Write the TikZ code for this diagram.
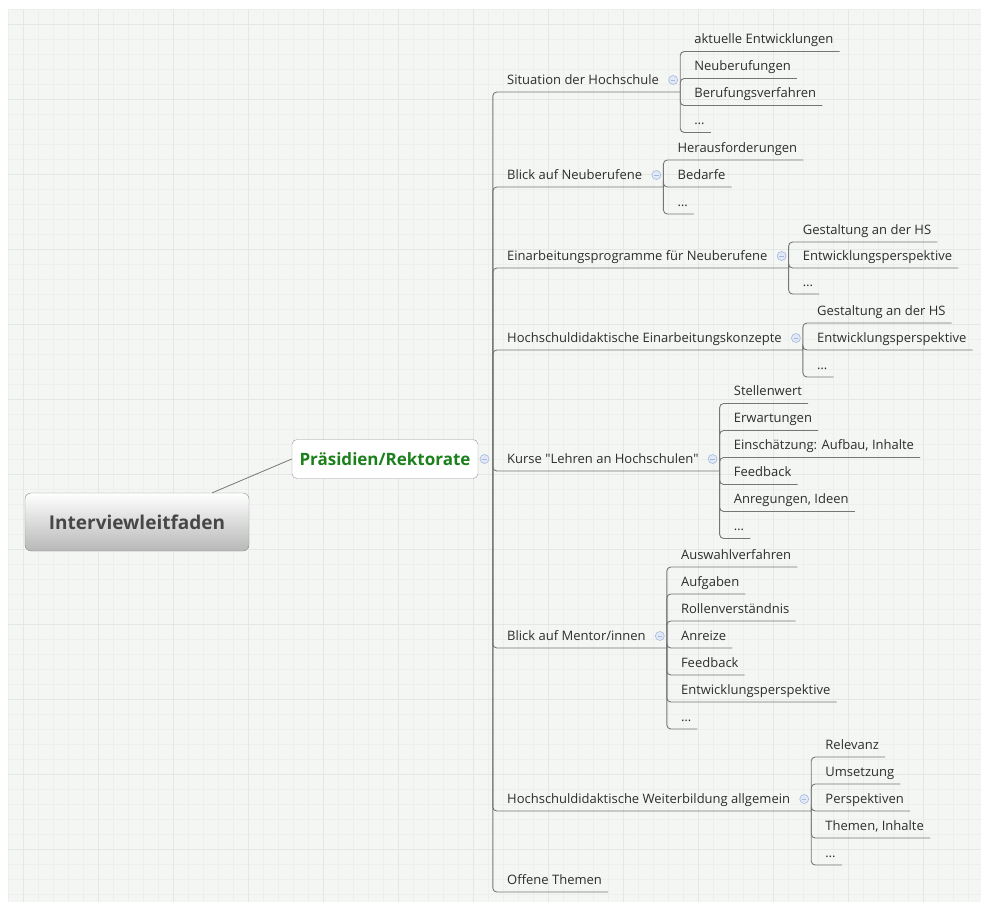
\documentclass[tikz,border=0pt]{standalone}
\usepackage{fontspec}
\setmainfont{Open Sans}[Ligatures=TeXOff]
\usetikzlibrary{positioning,calc}
\definecolor{mmline}{RGB}{118,118,118}
\definecolor{mmtext}{RGB}{45,45,45}
\definecolor{mmgreen}{RGB}{28,128,28}
\definecolor{mmbg}{RGB}{244,246,244}
\definecolor{mmgrid}{RGB}{236,239,236}
\definecolor{mmgridmajor}{RGB}{228,232,228}
\definecolor{mmicon}{RGB}{165,185,222}
\definecolor{mmiconfill}{RGB}{226,233,246}

\tikzset{
  leaf/.style={font=\fontsize{13}{15}\selectfont, text=mmtext, inner xsep=0pt, inner ysep=0pt,
    text height=10pt, text depth=7.5pt, anchor=south west},
  link/.style={draw=mmline, line width=0.9pt, rounded corners=4pt},
  fold/.style={circle, draw=mmicon, fill=mmiconfill, minimum size=9pt, inner sep=0pt, line width=0.6pt,
    path picture={\draw[mmicon, line width=0.8pt] ([xshift=-2.2pt]path picture bounding box.center)
      -- ([xshift=2.2pt]path picture bounding box.center);}},
  rootbox/.style={draw=black!45, rounded corners=6pt, top color=white, bottom color=black!28,
    minimum width=224pt, minimum height=58pt, font=\fontsize{19}{22}\selectfont\bfseries, text=black!72},
  presbox/.style={draw=black!40, rounded corners=5pt, fill=white, minimum width=186pt, minimum height=39pt,
    font=\fontsize{17}{20}\selectfont\bfseries, text=mmgreen},
}

\begin{document}
\begin{tikzpicture}[x=1pt, y=-1pt]
\useasboundingbox (0,0) rectangle (981,902);
% Background grid
\fill[mmbg] (8,9) rectangle (981,902);
\foreach \x in {8,23,...,981} \draw[mmgrid, line width=0.6pt] (\x,9) -- (\x,902);
\foreach \y in {9,24,...,902} \draw[mmgrid, line width=0.6pt] (8,\y) -- (981,\y);
\foreach \x in {23,98,...,981} \draw[mmgridmajor, line width=0.8pt] (\x,9) -- (\x,902);
\foreach \y in {24,99,...,902} \draw[mmgridmajor, line width=0.8pt] (8,\y) -- (981,\y);

% Central topic and main topic
\node[rootbox] (root) at (137,522) {Interviewleitfaden};
\node[presbox] (pres) at (385,459) {Präsidien/Rektorate};
\draw[mmline, line width=0.8pt] ([xshift=-37pt]root.north east) -- (pres.west);
\node[fold, right=1.5pt of pres] (pfold) {};
\coordinate[right=3.5pt of pfold] (hub);

% Main branches
\node[leaf] (b1) at (507,92) {Situation der Hochschule};
\node[leaf] (b2) at (507,187) {Blick auf Neuberufene};
\node[leaf] (b3) at (507,268) {Einarbeitungsprogramme für Neuberufene};
\node[leaf] (b4) at (507,350) {Hochschuldidaktische Einarbeitungskonzepte};
\node[leaf] (b5) at (507,471) {Kurse "Lehren an Hochschulen"};
\node[leaf] (b6) at (507,648) {Blick auf Mentor/innen};
\node[leaf] (b7) at (507,811) {Hochschuldidaktische Weiterbildung allgemein};
\node[leaf] (b8) at (507,892) {Offene Themen};
\foreach \i in {1,...,7} {
  \node[fold] (f\i) at ([xshift=14pt, yshift=12pt]b\i.south east) {};
  \coordinate (s\i) at ([xshift=21pt]b\i.south east);
  \draw[link] (hub) |- (s\i);
}
\draw[link] (hub) |- ([xshift=6pt]b8.south east);

% Situation der Hochschule
\foreach \txt [count=\i] in {aktuelle Entwicklungen, Neuberufungen, Berufungsverfahren, \ldots} {
  \node[leaf] (g1c\i) at ($(s1)+(14,{(\i-2.5)*27})$) {\txt};
  \draw[link] (s1) |- ([xshift=6pt]g1c\i.south east);
}
% Blick auf Neuberufene
\foreach \txt [count=\i] in {Herausforderungen, Bedarfe, \ldots} {
  \node[leaf] (g2c\i) at ($(s2)+(14,{(\i-2)*27})$) {\txt};
  \draw[link] (s2) |- ([xshift=6pt]g2c\i.south east);
}
% Einarbeitungsprogramme
\foreach \txt [count=\i] in {Gestaltung an der HS, Entwicklungsperspektive, \ldots} {
  \node[leaf] (g3c\i) at ($(s3)+(14,{(\i-2)*26})$) {\txt};
  \draw[link] (s3) |- ([xshift=6pt]g3c\i.south east);
}
% Einarbeitungskonzepte
\foreach \txt [count=\i] in {Gestaltung an der HS, Entwicklungsperspektive, \ldots} {
  \node[leaf] (g4c\i) at ($(s4)+(14,{(\i-2)*27})$) {\txt};
  \draw[link] (s4) |- ([xshift=6pt]g4c\i.south east);
}
% Kurse
\foreach \txt [count=\i] in {Stellenwert, Erwartungen, {Einschätzung: Aufbau, Inhalte}, Feedback,
    {Anregungen, Ideen}, \ldots} {
  \node[leaf] (g5c\i) at ($(s5)+(14,{(\i-3.5)*27})$) {\txt};
  \draw[link] (s5) |- ([xshift=6pt]g5c\i.south east);
}
% Mentor/innen
\foreach \txt [count=\i] in {Auswahlverfahren, Aufgaben, Rollenverständnis, Anreize, Feedback,
    Entwicklungsperspektive, \ldots} {
  \node[leaf] (g6c\i) at ($(s6)+(14,{(\i-4)*27})$) {\txt};
  \draw[link] (s6) |- ([xshift=6pt]g6c\i.south east);
}
% Weiterbildung
\foreach \txt [count=\i] in {Relevanz, Umsetzung, Perspektiven, {Themen, Inhalte}, \ldots} {
  \node[leaf] (g7c\i) at ($(s7)+(14,{(\i-3)*27})$) {\txt};
  \draw[link] (s7) |- ([xshift=6pt]g7c\i.south east);
}
\end{tikzpicture}
\end{document}
